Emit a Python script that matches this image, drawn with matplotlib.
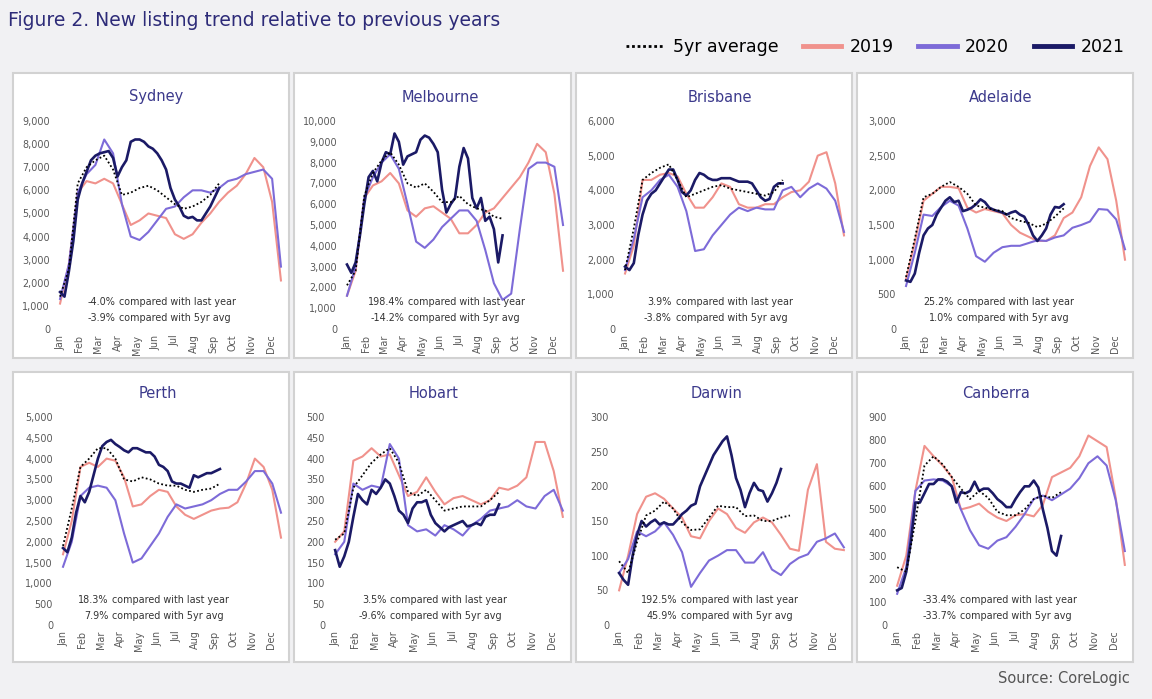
import numpy as np
import matplotlib
matplotlib.use("Agg")
import matplotlib.pyplot as plt
from matplotlib.patches import Rectangle
from matplotlib.lines import Line2D
from matplotlib.ticker import FuncFormatter
from matplotlib.transforms import blended_transform_factory

months = ['Jan', 'Feb', 'Mar', 'Apr', 'May', 'Jun', 'Jul', 'Aug', 'Sep', 'Oct', 'Nov', 'Dec']
cities = ['Sydney', 'Melbourne', 'Brisbane', 'Adelaide', 'Perth', 'Hobart', 'Darwin', 'Canberra']

# 2019 / 2020 / 5yr avg read every second week, 2021 read every week
sydney_2019 = [1100, 2800, 5900, 6400, 6300, 6500, 6300, 5400, 4500, 4700, 5000, 4900, 4800,
               4100, 3900, 4100, 4600, 5000, 5500, 5900, 6200, 6700, 7400, 7000, 5500, 2100]
sydney_2020 = [1300, 2800, 5900, 6700, 7100, 8200, 7600, 5400, 4000, 3850, 4200, 4700, 5200,
               5300, 5700, 6000, 6000, 5900, 6100, 6400, 6500, 6700, 6800, 6900, 6500, 2700]
sydney_2021 = [1600, 1400, 2500, 3800, 5600, 6300, 6800, 7300, 7500, 7600, 7650, 7700, 7400,
               6600, 7000, 7300, 8100, 8200, 8200, 8100, 7900, 7800, 7600, 7300, 6900, 6100,
               5600, 5300, 4900, 4800, 4850, 4700, 4700, 5000, 5300, 5700, 6100]
sydney_avg = [1400, 2600, 6300, 7000, 7300, 7500, 6900, 5800, 5900, 6100, 6200, 6000, 5700,
              5400, 5200, 5300, 5500, 5800, 6300]

melbourne_2019 = [1600, 2800, 6300, 6900, 7100, 7500, 7000, 5700, 5400, 5800, 5900, 5600, 5300,
                  4600, 4600, 5000, 5600, 5800, 6300, 6800, 7300, 8000, 8900, 8500, 6500, 2800]
melbourne_2020 = [1600, 3000, 6300, 7300, 8000, 8400, 7700, 6000, 4200, 3900, 4300, 4900, 5300,
                  5700, 5700, 5200, 3800, 2200, 1400, 1700, 4800, 7700, 8000, 8000, 7800, 5000]
melbourne_2021 = [3100, 2700, 3200, 4500, 6000, 7300, 7600, 7100, 8000, 8500, 8400, 9400, 9000,
                  7900, 8300, 8400, 8500, 9100, 9300, 9200, 8900, 8500, 6700, 5600, 6000, 6300,
                  7800, 8700, 8200, 6300, 5800, 6300, 5200, 5400, 4800, 3200, 4500]
melbourne_avg = [2100, 2800, 6400, 7500, 8100, 8500, 7900, 7000, 6800, 7000, 6600, 6100, 6100,
                 6400, 6000, 5800, 5700, 5400, 5300]

brisbane_2019 = [1600, 2400, 4300, 4300, 4450, 4500, 4400, 3900, 3500, 3500, 3800, 4200, 4100,
                 3600, 3500, 3500, 3600, 3600, 3800, 3950, 4000, 4250, 5000, 5100, 4200, 2700]
brisbane_2020 = [1700, 2600, 3800, 4000, 4300, 4450, 4100, 3400, 2250, 2300, 2700, 3000, 3300,
                 3500, 3400, 3500, 3450, 3450, 4000, 4100, 3800, 4050, 4200, 4050, 3700, 2800]
brisbane_2021 = [1800, 1700, 1900, 2700, 3300, 3700, 3900, 4000, 4200, 4400, 4600, 4600, 4300,
                 3950, 3850, 4000, 4300, 4500, 4450, 4350, 4300, 4300, 4350, 4350, 4350, 4300,
                 4250, 4250, 4250, 4200, 4000, 3800, 3700, 3750, 4100, 4200, 4200]
brisbane_avg = [1700, 2900, 4300, 4500, 4650, 4750, 4300, 3800, 3900, 4000, 4100, 4150, 4050,
                4000, 3950, 3900, 3850, 3950, 4300]

adelaide_2019 = [720, 1250, 1850, 1950, 2050, 2050, 2030, 1750, 1680, 1730, 1700, 1670, 1500,
                 1390, 1330, 1270, 1270, 1350, 1600, 1680, 1900, 2350, 2620, 2450, 1850, 1000]
adelaide_2020 = [620, 1100, 1650, 1630, 1760, 1850, 1780, 1450, 1050, 970, 1100, 1180, 1200,
                 1200, 1240, 1280, 1270, 1320, 1350, 1460, 1500, 1550, 1730, 1720, 1580, 1150]
adelaide_2021 = [700, 680, 800, 1100, 1350, 1450, 1500, 1650, 1750, 1850, 1900, 1830, 1850,
                 1700, 1720, 1750, 1800, 1870, 1830, 1750, 1720, 1700, 1680, 1650, 1680, 1700,
                 1650, 1620, 1500, 1350, 1270, 1350, 1450, 1650, 1760, 1750, 1800]
adelaide_avg = [750, 1300, 1900, 1950, 2050, 2120, 2050, 1950, 1780, 1750, 1720, 1700, 1600,
                1560, 1530, 1470, 1520, 1620, 1740]

perth_2019 = [1700, 2500, 3800, 3900, 3800, 4000, 3950, 3550, 2850, 2900, 3100, 3250, 3200,
              2850, 2650, 2550, 2650, 2750, 2800, 2820, 2950, 3400, 4000, 3800, 3250, 2100]
perth_2020 = [1400, 2000, 3100, 3300, 3350, 3300, 3000, 2200, 1500, 1600, 1900, 2200, 2600,
              2900, 2800, 2850, 2900, 3000, 3150, 3250, 3250, 3450, 3700, 3700, 3400, 2700]
perth_2021 = [1850, 1750, 2100, 2700, 3100, 2950, 3200, 3600, 4000, 4300, 4400, 4450, 4350,
              4280, 4200, 4150, 4250, 4250, 4200, 4150, 4150, 4050, 3850, 3800, 3700, 3450,
              3400, 3400, 3350, 3300, 3600, 3550, 3600, 3650, 3650, 3700, 3750]
perth_avg = [1900, 2800, 3800, 4000, 4250, 4250, 4000, 3500, 3450, 3550, 3500, 3400, 3350,
             3350, 3250, 3200, 3250, 3280, 3400]

hobart_2019 = [200, 225, 395, 405, 425, 405, 410, 360, 310, 320, 355, 320, 290,
               305, 310, 300, 290, 300, 330, 325, 335, 355, 440, 440, 370, 260]
hobart_2020 = [170, 200, 340, 325, 335, 330, 435, 400, 240, 225, 230, 215, 240,
               230, 215, 240, 255, 275, 280, 285, 300, 285, 280, 310, 325, 275]
hobart_2021 = [180, 140, 165, 200, 260, 315, 300, 290, 325, 315, 330, 350, 340,
               310, 275, 265, 245, 280, 295, 295, 300, 265, 245, 235, 225, 235,
               240, 245, 250, 237, 240, 245, 240, 260, 265, 265, 290]
hobart_avg = [205, 220, 330, 360, 390, 410, 425, 390, 320, 310, 325, 300, 275,
              280, 285, 285, 285, 300, 320]

darwin_2019 = [50, 100, 160, 185, 190, 182, 168, 155, 128, 125, 150, 168, 160,
               140, 133, 148, 155, 148, 130, 110, 107, 195, 232, 120, 110, 108]
darwin_2020 = [75, 95, 135, 128, 135, 148, 130, 105, 55, 75, 93, 100, 108,
               108, 90, 90, 105, 80, 72, 88, 97, 102, 120, 125, 132, 112]
darwin_2021 = [75, 65, 58, 100, 130, 150, 142, 148, 152, 145, 148, 145, 145,
               152, 160, 165, 172, 175, 200, 215, 230, 245, 255, 265, 272, 245,
               212, 195, 170, 190, 205, 195, 193, 178, 190, 205, 225]
darwin_avg = [92, 75, 120, 158, 165, 178, 168, 148, 137, 138, 155, 172, 170,
              170, 157, 158, 150, 150, 155, 158]

canberra_2019 = [170, 300, 580, 775, 730, 690, 640, 500, 510, 525, 490, 465, 450,
                 475, 480, 470, 520, 640, 660, 680, 730, 820, 795, 770, 550, 260]
canberra_2020 = [135, 250, 580, 625, 630, 625, 600, 500, 410, 345, 330, 365, 380,
                 425, 480, 545, 560, 540, 565, 590, 635, 700, 730, 690, 540, 320]
canberra_2021 = [150, 160, 230, 360, 530, 530, 570, 610, 610, 630, 630, 620, 600,
                 530, 575, 570, 580, 620, 580, 590, 590, 570, 545, 530, 510, 510,
                 545, 575, 600, 600, 625, 595, 500, 420, 320, 300, 385]
canberra_avg = [250, 230, 450, 690, 730, 695, 640, 590, 545, 580, 550, 490, 475,
                475, 500, 545, 560, 550, 575]

y_max = [9000, 10000, 6000, 3000, 5000, 500, 300, 900]
y_step = [1000, 1000, 1000, 500, 500, 50, 50, 100]
change_last_year = ['-4.0%', '198.4%', '3.9%', '25.2%', '18.3%', '3.5%', '192.5%', '-33.4%']
change_5yr_avg = ['-3.9%', '-14.2%', '-3.8%', '1.0%', '7.9%', '-9.6%', '45.9%', '-33.7%']

series_2019 = [sydney_2019, melbourne_2019, brisbane_2019, adelaide_2019,
               perth_2019, hobart_2019, darwin_2019, canberra_2019]
series_2020 = [sydney_2020, melbourne_2020, brisbane_2020, adelaide_2020,
               perth_2020, hobart_2020, darwin_2020, canberra_2020]
series_2021 = [sydney_2021, melbourne_2021, brisbane_2021, adelaide_2021,
               perth_2021, hobart_2021, darwin_2021, canberra_2021]
series_avg = [sydney_avg, melbourne_avg, brisbane_avg, adelaide_avg,
              perth_avg, hobart_avg, darwin_avg, canberra_avg]

c2019 = '#f0928c'
c2020 = '#7d6bd8'
c2021 = '#1b1a66'
title_col = '#2d2b78'


def week_to_month(n, step):
    return np.arange(n) * step * 12 / 52


W, H = 1152, 699
fig = plt.figure(figsize=(W / 100, H / 100), dpi=100)
fig.patch.set_facecolor('#f1f1f3')

# panel boxes in pixels
panel_x = [(13, 289), (294, 571), (576, 852), (857, 1133)]
panel_y = [(73, 358), (372, 662)]
jan_off = [47, 53, 49, 49, 50, 41, 43, 40]
zero_y = [329, 625]
top_y = [121, 417]
title_y = [97, 393]
note_y = [(302, 318), (600, 616)]
num_end = [2.9, 3.07, 2.46, 2.5, 2.4, 2.6, 3.0, 3.0]

for i, city in enumerate(cities):
    r, c = divmod(i, 4)
    px0, px1 = panel_x[c]
    py0, py1 = panel_y[r]
    fig.add_artist(Rectangle((px0 / W, 1 - py1 / H), (px1 - px0) / W, (py1 - py0) / H,
                             transform=fig.transFigure, facecolor='white',
                             edgecolor='#d2d2d2', lw=1.5, zorder=0))

    left = px0 + jan_off[i] - 3
    right = px1 - 4
    ax = fig.add_axes([left / W, 1 - zero_y[r] / H, (right - left) / W,
                       (zero_y[r] - top_y[r]) / H])
    ax.set_facecolor('none')
    for s in ax.spines.values():
        s.set_visible(False)

    y19 = series_2019[i]
    y20 = series_2020[i]
    y21 = series_2021[i]
    yav = series_avg[i]
    ax.plot(week_to_month(len(y19), 2), y19, color=c2019, lw=1.5, zorder=2)
    ax.plot(week_to_month(len(y20), 2), y20, color=c2020, lw=1.5, zorder=2)
    ax.plot(week_to_month(len(y21), 1), y21, color=c2021, lw=1.9, zorder=3)
    ax.plot(week_to_month(len(yav), 2), yav, color='black', lw=1.3,
            ls=(0, (1, 1.3)), zorder=4)

    ax.set_xlim(-0.16, 11.75)
    ax.set_ylim(0, y_max[i])
    ax.set_yticks(np.arange(0, y_max[i] + y_step[i], y_step[i]))
    ax.yaxis.set_major_formatter(FuncFormatter(lambda v, p: f'{v:,.0f}'))
    ax.set_xticks(range(12))
    ax.set_xticklabels(months, rotation=90)
    ax.tick_params(length=0, labelsize=6.9, colors='#595959')
    ax.tick_params(axis='y', pad=5)
    ax.tick_params(axis='x', pad=4)

    tr = blended_transform_factory(ax.transData, fig.transFigure)
    ax.text(5.0, 1 - title_y[r] / H, city, transform=tr, ha='center', va='center',
            fontsize=10.5, color='#3c3a8c')
    ny1, ny2 = note_y[r]
    ax.text(num_end[i], 1 - ny1 / H, change_last_year[i], transform=tr, ha='right',
            va='center', fontsize=6.9, color='#333333')
    ax.text(num_end[i] + 0.2, 1 - ny1 / H, 'compared with last year', transform=tr,
            ha='left', va='center', fontsize=6.9, color='#333333')
    ax.text(num_end[i], 1 - ny2 / H, change_5yr_avg[i], transform=tr, ha='right',
            va='center', fontsize=6.9, color='#333333')
    ax.text(num_end[i] + 0.2, 1 - ny2 / H, 'compared with 5yr avg', transform=tr,
            ha='left', va='center', fontsize=6.9, color='#333333')

fig.text(8 / W, 1 - 20 / H, 'Figure 2. New listing trend relative to previous years',
         ha='left', va='center', fontsize=13.5, color=title_col)

handles = [Line2D([], [], color='black', lw=2, ls=(0, (1, 1))),
           Line2D([], [], color=c2019, lw=3.5),
           Line2D([], [], color=c2020, lw=3.5),
           Line2D([], [], color=c2021, lw=3.5)]
fig.legend(handles, ['5yr average', '2019', '2020', '2021'], loc='center right',
           bbox_to_anchor=(1140 / W, 1 - 47 / H), ncol=4, frameon=False, fontsize=12.5,
           handlelength=2.2, handletextpad=0.5, columnspacing=1.4)

fig.text(1130 / W, 1 - 678 / H, 'Source: CoreLogic', ha='right', va='center',
         fontsize=10.5, color='#555555')

fig.savefig('out.png', dpi=100, facecolor=fig.get_facecolor())
